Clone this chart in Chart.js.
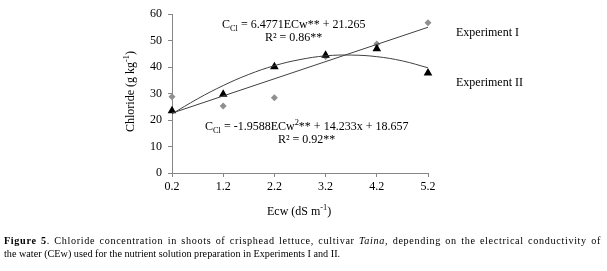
<!DOCTYPE html>
<html>
<head>
<meta charset="utf-8">
<script src="https://cdn.jsdelivr.net/npm/chart.js@4/dist/chart.umd.min.js"></script>
<style>
  body { margin: 0; background: #fff; }
  #wrap { position: relative; width: 607px; height: 271px; }
  #caption {
    position: absolute; left: 4px; top: 234px; width: 597px;
    font-family: "Liberation Serif", serif; font-size: 10.2px; line-height: 13px; color: #000;
  }
  #caption .first { text-align: justify; text-align-last: justify; white-space: nowrap; letter-spacing: 0.65px; }
</style>
</head>
<body>
<div id="wrap">
  <canvas id="chloride" width="607" height="271"></canvas>
  <div id="caption"><div class="first"><b>Figure 5</b>. Chloride concentration in shoots of crisphead lettuce, cultivar <i>Taina</i>, depending on the electrical conductivity of</div><div>the water (CEw) used for the nutrient solution preparation in Experiments I and II.</div></div>
</div>
<script>
const ecw = [0.2, 1.2, 2.2, 3.2, 4.2, 5.2];
const expI = [28.8, 25.3, 28.4, 44.0, 48.7, 56.7];
const expII = [23.5, 29.7, 40.1, 44.4, 46.9, 37.7];

// trendlines
const linX = [0.2, 5.2];
const linY = [22.6, 55.0];
const quadX = [0.2, 0.7, 1.2, 1.7, 2.2, 2.7, 3.2, 3.7, 4.2, 4.7, 5.2];
const quadY = [22.3, 28.0, 33.0, 37.2, 40.5, 42.8, 44.2, 44.5, 43.9, 42.3, 39.7];

const yTicks = [0, 10, 20, 30, 40, 50, 60];

const serif = '"Liberation Serif", serif';
const axisGrey = "#868686";

function pts(xs, ys) {
  return xs.map((x, i) => ({ x: x, y: ys[i] }));
}

// draw runs of text, some as sub/superscript
function drawRuns(ctx, runs, x, y, size) {
  ctx.textBaseline = "alphabetic";
  ctx.textAlign = "left";
  runs.forEach((r) => {
    let s = size, dy = 0;
    if (r.sub) { s = size * 0.7; dy = size * 0.22; }
    if (r.sup) { s = size * 0.7; dy = -size * 0.38; }
    ctx.font = s + "px " + serif;
    ctx.fillText(r.t, x, y + dy);
    x += ctx.measureText(r.t).width;
  });
}

const labelsPlugin = {
  id: "labels",
  afterDraw(chart) {
    const ctx = chart.ctx;
    ctx.save();
    ctx.fillStyle = "#000";
    drawRuns(ctx, [{ t: "C" }, { t: "Cl", sub: true }, { t: " = 6.4771ECw** + 21.265" }], 222, 28, 12);
    drawRuns(ctx, [{ t: "R² = 0.86**" }], 265, 41, 12);
    drawRuns(ctx, [{ t: "C" }, { t: "Cl", sub: true }, { t: " = -1.9588ECw" }, { t: "2", sup: true }, { t: "** + 14.233x + 18.657" }], 205, 130, 12);
    drawRuns(ctx, [{ t: "R² = 0.92**" }], 278, 143, 12);
    drawRuns(ctx, [{ t: "Experiment I" }], 456, 36, 12);
    drawRuns(ctx, [{ t: "Experiment II" }], 456, 86, 12);
    drawRuns(ctx, [{ t: "Ecw (dS m" }, { t: "-1", sup: true }, { t: ")" }], 267, 215, 12);
    // y axis title
    ctx.translate(134, 132);
    ctx.rotate(-Math.PI / 2);
    drawRuns(ctx, [{ t: "Chloride (g kg" }, { t: "-1", sup: true }, { t: ")" }], 0, 0, 12);
    ctx.restore();
  },
};

new Chart(document.getElementById("chloride"), {
  type: "scatter",
  data: {
    datasets: [
      {
        label: "quad",
        data: pts(quadX, quadY),
        showLine: true,
        borderColor: "#404040",
        borderWidth: 1,
        pointRadius: 0,
        tension: 0.4,
        clip: false,
      },
      {
        label: "lin",
        data: pts(linX, linY),
        showLine: true,
        borderColor: "#404040",
        borderWidth: 1,
        pointRadius: 0,
        clip: false,
      },
      {
        label: "Experiment II",
        data: pts(ecw, expII),
        pointStyle: "triangle",
        pointRadius: 5,
        backgroundColor: "#000",
        borderColor: "#000",
        borderWidth: 0,
        clip: false,
      },
      {
        label: "Experiment I",
        data: pts(ecw, expI),
        pointStyle: "rectRot",
        pointRadius: 3.5,
        backgroundColor: "#8f8f8f",
        borderColor: "#8f8f8f",
        borderWidth: 0,
        clip: false,
      },
    ],
  },
  options: {
    responsive: false,
    animation: false,
    layout: { padding: { left: 142, right: 179, top: 14, bottom: 78 } },
    plugins: { legend: { display: false }, tooltip: { enabled: false } },
    scales: {
      x: {
        type: "linear",
        min: 0.2,
        max: 5.2,
        afterBuildTicks: (scale) => { scale.ticks = ecw.map((v) => ({ value: v })); },
        afterFit: (scale) => { scale.height = 20; },
        border: { color: axisGrey, width: 1 },
        grid: { drawOnChartArea: false, color: axisGrey, tickLength: 4 },
        ticks: {
          color: "#000",
          font: { family: serif, size: 12 },
          padding: 3,
          maxRotation: 0,
          callback: (v) => v.toFixed(1),
        },
      },
      y: {
        min: 0,
        max: 60,
        afterBuildTicks: (scale) => { scale.ticks = yTicks.map((v) => ({ value: v })); },
        afterFit: (scale) => { scale.width = 30; },
        border: { color: axisGrey, width: 1 },
        grid: { drawOnChartArea: false, color: axisGrey, tickLength: 4 },
        ticks: {
          color: "#000",
          font: { family: serif, size: 12 },
          padding: 6,
        },
      },
    },
  },
  plugins: [labelsPlugin],
});
</script>
</body>
</html>
